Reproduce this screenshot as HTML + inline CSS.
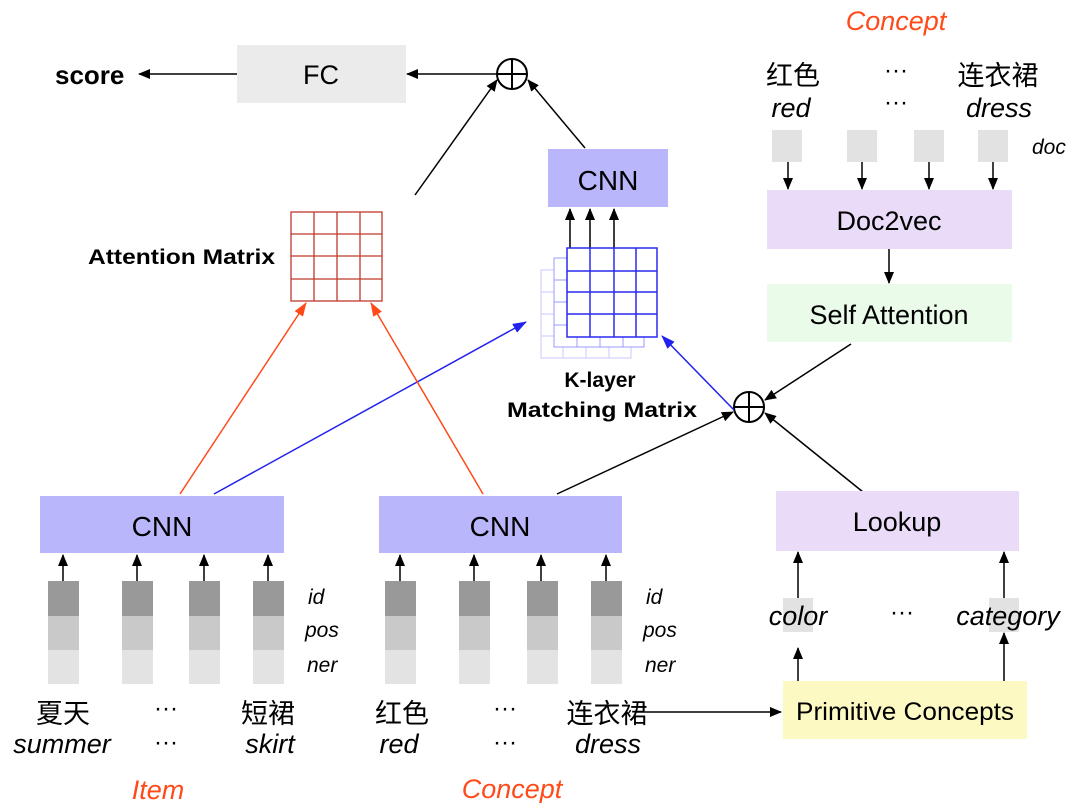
<!DOCTYPE html>
<html><head><meta charset="utf-8"><style>
html,body{margin:0;padding:0;background:#fff;}
svg{display:block;}
text{font-family:"Liberation Sans","Noto Sans CJK SC",sans-serif;}
</style></head><body>
<svg width="1080" height="803" viewBox="0 0 1080 803" xmlns="http://www.w3.org/2000/svg">
<defs>
<marker id="ak" markerWidth="12" markerHeight="10" refX="11" refY="5" orient="auto" markerUnits="userSpaceOnUse"><path d="M0,0 L12,5 L0,10 z" fill="#000"/></marker>
<marker id="ab" markerWidth="14" markerHeight="10" refX="13" refY="5" orient="auto" markerUnits="userSpaceOnUse"><path d="M0,0 L14,5 L0,10 z" fill="#2222ee"/></marker>
<marker id="ar" markerWidth="14" markerHeight="10" refX="13" refY="5" orient="auto" markerUnits="userSpaceOnUse"><path d="M0,0 L14,5 L0,10 z" fill="#ff4a1a"/></marker>
</defs>

<text x="55" y="84" font-size="26" font-weight="bold" fill="#000">score</text>
<line x1="237" y1="74" x2="139" y2="74" stroke="#000" stroke-width="1.5" marker-end="url(#ak)"/>
<rect x="237" y="45" width="169" height="58" fill="#ebebeb"/>
<text x="321" y="84" font-size="27" text-anchor="middle">FC</text>
<line x1="497" y1="74" x2="407" y2="74" stroke="#000" stroke-width="1.5" marker-end="url(#ak)"/>
<circle cx="512" cy="74" r="15" fill="#fff" stroke="#000" stroke-width="2"/>
<line x1="497" y1="74" x2="527" y2="74" stroke="#000" stroke-width="2"/>
<line x1="512" y1="59" x2="512" y2="89" stroke="#000" stroke-width="2"/>
<line x1="415" y1="195" x2="497" y2="80" stroke="#000" stroke-width="1.5" marker-end="url(#ak)"/>
<line x1="585" y1="148" x2="528" y2="80" stroke="#000" stroke-width="1.5" marker-end="url(#ak)"/>

<rect x="548" y="149" width="120" height="58" fill="#b9b6fb"/>
<text x="608" y="190" font-size="28" text-anchor="middle">CNN</text>
<line x1="570" y1="248" x2="570" y2="209" stroke="#000" stroke-width="1.5" marker-end="url(#ak)"/>
<line x1="590" y1="248" x2="590" y2="209" stroke="#000" stroke-width="1.5" marker-end="url(#ak)"/>
<line x1="614" y1="248" x2="614" y2="209" stroke="#000" stroke-width="1.5" marker-end="url(#ak)"/>

<text x="275" y="264" font-size="21" font-weight="bold" text-anchor="end" textLength="187" lengthAdjust="spacingAndGlyphs">Attention Matrix</text>
<g stroke="#c0392b" stroke-width="1.3" fill="none">
<rect x="291" y="212" width="91" height="89"/>
<line x1="314" y1="212" x2="314" y2="301"/><line x1="337" y1="212" x2="337" y2="301"/><line x1="360" y1="212" x2="360" y2="301"/>
<line x1="291" y1="234" x2="382" y2="234"/><line x1="291" y1="256" x2="382" y2="256"/><line x1="291" y1="279" x2="382" y2="279"/>
</g>

<g stroke="#c8c8ff" stroke-width="1" fill="#fff">
<rect x="541" y="270" width="90" height="88"/>
<line x1="563" y1="270" x2="563" y2="358"/><line x1="586" y1="270" x2="586" y2="358"/><line x1="609" y1="270" x2="609" y2="358"/>
<line x1="541" y1="292" x2="631" y2="292"/><line x1="541" y1="314" x2="631" y2="314"/><line x1="541" y1="336" x2="631" y2="336"/>
</g>
<g stroke="#9a9aff" stroke-width="1" fill="#fff">
<rect x="554" y="258" width="90" height="89"/>
<line x1="577" y1="258" x2="577" y2="347"/><line x1="600" y1="258" x2="600" y2="347"/><line x1="623" y1="258" x2="623" y2="347"/>
<line x1="554" y1="280" x2="644" y2="280"/><line x1="554" y1="302" x2="644" y2="302"/><line x1="554" y1="325" x2="644" y2="325"/>
</g>
<g stroke="#2a2af0" stroke-width="1.5" fill="#fff">
<rect x="567" y="248" width="90" height="89"/>
<line x1="590" y1="248" x2="590" y2="337"/><line x1="614" y1="248" x2="614" y2="337"/><line x1="636" y1="248" x2="636" y2="337"/>
<line x1="567" y1="271" x2="657" y2="271"/><line x1="567" y1="292" x2="657" y2="292"/><line x1="567" y1="314" x2="657" y2="314"/>
</g>
<text x="600" y="387" font-size="21" font-weight="bold" text-anchor="middle">K-layer</text>
<text x="602" y="417" font-size="21" font-weight="bold" text-anchor="middle" textLength="190" lengthAdjust="spacingAndGlyphs">Matching Matrix</text>

<text x="896" y="30" font-size="27" font-style="italic" fill="#ff4a1a" text-anchor="middle">Concept</text>
<text x="793" y="85" font-size="27" text-anchor="middle">红色</text>
<text x="791" y="117" font-size="27" font-style="italic" text-anchor="middle">red</text>
<text x="896" y="78" font-size="24" text-anchor="middle">···</text>
<text x="896" y="110" font-size="24" text-anchor="middle">···</text>
<text x="998" y="85" font-size="27" text-anchor="middle">连衣裙</text>
<text x="999" y="117" font-size="27" font-style="italic" text-anchor="middle">dress</text>
<rect x="772" y="130" width="30" height="32" fill="#e2e2e2"/>
<rect x="847" y="130" width="30" height="32" fill="#e2e2e2"/>
<rect x="914" y="130" width="30" height="32" fill="#e2e2e2"/>
<rect x="978" y="130" width="30" height="32" fill="#e2e2e2"/>
<text x="1032" y="154" font-size="21" font-style="italic">doc</text>
<line x1="788" y1="162" x2="788" y2="189" stroke="#000" stroke-width="1.5" marker-end="url(#ak)"/>
<line x1="862" y1="162" x2="862" y2="189" stroke="#000" stroke-width="1.5" marker-end="url(#ak)"/>
<line x1="929" y1="162" x2="929" y2="189" stroke="#000" stroke-width="1.5" marker-end="url(#ak)"/>
<line x1="993" y1="162" x2="993" y2="189" stroke="#000" stroke-width="1.5" marker-end="url(#ak)"/>
<rect x="767" y="190" width="245" height="59" fill="#eadcf9"/>
<text x="889" y="230" font-size="27" text-anchor="middle">Doc2vec</text>
<line x1="889" y1="249" x2="889" y2="283" stroke="#000" stroke-width="1.5" marker-end="url(#ak)"/>
<rect x="767" y="284" width="245" height="58" fill="#ebfbea"/>
<text x="889" y="324" font-size="27" text-anchor="middle">Self Attention</text>
<line x1="851" y1="344" x2="765" y2="400" stroke="#000" stroke-width="1.5" marker-end="url(#ak)"/>

<circle cx="749" cy="407" r="15" fill="#fff" stroke="#000" stroke-width="2"/>
<line x1="734" y1="407" x2="764" y2="407" stroke="#000" stroke-width="2"/>
<line x1="749" y1="392" x2="749" y2="422" stroke="#000" stroke-width="2"/>
<line x1="863" y1="492" x2="765" y2="413" stroke="#000" stroke-width="1.5" marker-end="url(#ak)"/>
<line x1="557" y1="494" x2="733" y2="412" stroke="#000" stroke-width="1.5" marker-end="url(#ak)"/>
<line x1="734" y1="410" x2="662" y2="336" stroke="#2222ee" stroke-width="1.5" marker-end="url(#ab)"/>

<line x1="180" y1="494" x2="306" y2="303" stroke="#ff4a1a" stroke-width="1.5" marker-end="url(#ar)"/>
<line x1="214" y1="494" x2="526" y2="322" stroke="#2222ee" stroke-width="1.5" marker-end="url(#ab)"/>
<line x1="483" y1="494" x2="371" y2="303" stroke="#ff4a1a" stroke-width="1.5" marker-end="url(#ar)"/>
<rect x="40" y="496" width="244" height="57" fill="#b9b6fb"/>
<text x="162" y="536" font-size="28" text-anchor="middle">CNN</text>
<rect x="379" y="496" width="243" height="57" fill="#b9b6fb"/>
<text x="500" y="536" font-size="28" text-anchor="middle">CNN</text>

<g>
<g id="c1">
<rect x="48" y="581" width="31" height="35" fill="#999"/><rect x="48" y="616" width="31" height="34" fill="#c9c9c9"/><rect x="48" y="650" width="31" height="34" fill="#e3e3e3"/>
</g>
<use href="#c1" x="74"/><use href="#c1" x="141"/><use href="#c1" x="205"/>
<use href="#c1" x="337"/><use href="#c1" x="411"/><use href="#c1" x="479"/><use href="#c1" x="543"/>
</g>
<g stroke="#000" stroke-width="1.5" marker-end="url(#ak)">
<line x1="63" y1="581" x2="63" y2="555"/><line x1="137" y1="581" x2="137" y2="555"/><line x1="204" y1="581" x2="204" y2="555"/><line x1="268" y1="581" x2="268" y2="555"/>
<line x1="400" y1="581" x2="400" y2="555"/><line x1="474" y1="581" x2="474" y2="555"/><line x1="541" y1="581" x2="541" y2="555"/><line x1="606" y1="581" x2="606" y2="555"/>
</g>
<g font-size="21" font-style="italic">
<text x="308" y="604">id</text><text x="305" y="637">pos</text><text x="307" y="672">ner</text>
<text x="646" y="604">id</text><text x="643" y="637">pos</text><text x="645" y="672">ner</text>
</g>

<text x="63" y="723" font-size="27" text-anchor="middle">夏天</text>
<text x="62" y="753" font-size="27" font-style="italic" text-anchor="middle">summer</text>
<text x="166" y="716" font-size="24" text-anchor="middle">···</text>
<text x="166" y="750" font-size="24" text-anchor="middle">···</text>
<text x="268" y="723" font-size="27" text-anchor="middle">短裙</text>
<text x="270" y="753" font-size="27" font-style="italic" text-anchor="middle">skirt</text>
<text x="158" y="799" font-size="27" font-style="italic" fill="#ff4a1a" text-anchor="middle">Item</text>

<text x="402" y="723" font-size="27" text-anchor="middle">红色</text>
<text x="399" y="753" font-size="27" font-style="italic" text-anchor="middle">red</text>
<text x="505" y="716" font-size="24" text-anchor="middle">···</text>
<text x="505" y="750" font-size="24" text-anchor="middle">···</text>
<text x="607" y="723" font-size="27" text-anchor="middle">连衣裙</text>
<text x="608" y="753" font-size="27" font-style="italic" text-anchor="middle">dress</text>
<text x="512" y="798" font-size="27" font-style="italic" fill="#ff4a1a" text-anchor="middle">Concept</text>
<line x1="636" y1="712" x2="781" y2="712" stroke="#000" stroke-width="1.5" marker-end="url(#ak)"/>

<rect x="776" y="491" width="243" height="60" fill="#eadcf9"/>
<text x="897" y="531" font-size="27" text-anchor="middle">Lookup</text>
<rect x="783" y="598" width="30" height="34" fill="#e2e2e2"/>
<rect x="989" y="598" width="30" height="34" fill="#e2e2e2"/>
<text x="798" y="625" font-size="27" font-style="italic" text-anchor="middle">color</text>
<text x="902" y="620" font-size="24" text-anchor="middle">···</text>
<text x="1008" y="625" font-size="27" font-style="italic" text-anchor="middle">category</text>
<g stroke="#000" stroke-width="1.5" marker-end="url(#ak)">
<line x1="798" y1="598" x2="798" y2="552"/><line x1="1004" y1="598" x2="1004" y2="552"/>
<line x1="798" y1="681" x2="798" y2="648"/><line x1="1004" y1="681" x2="1004" y2="633"/>
</g>
<rect x="783" y="681" width="244" height="58" fill="#fcfac2"/>
<text x="905" y="720" font-size="25" text-anchor="middle" textLength="218" lengthAdjust="spacingAndGlyphs">Primitive Concepts</text>
</svg>
</body></html>
